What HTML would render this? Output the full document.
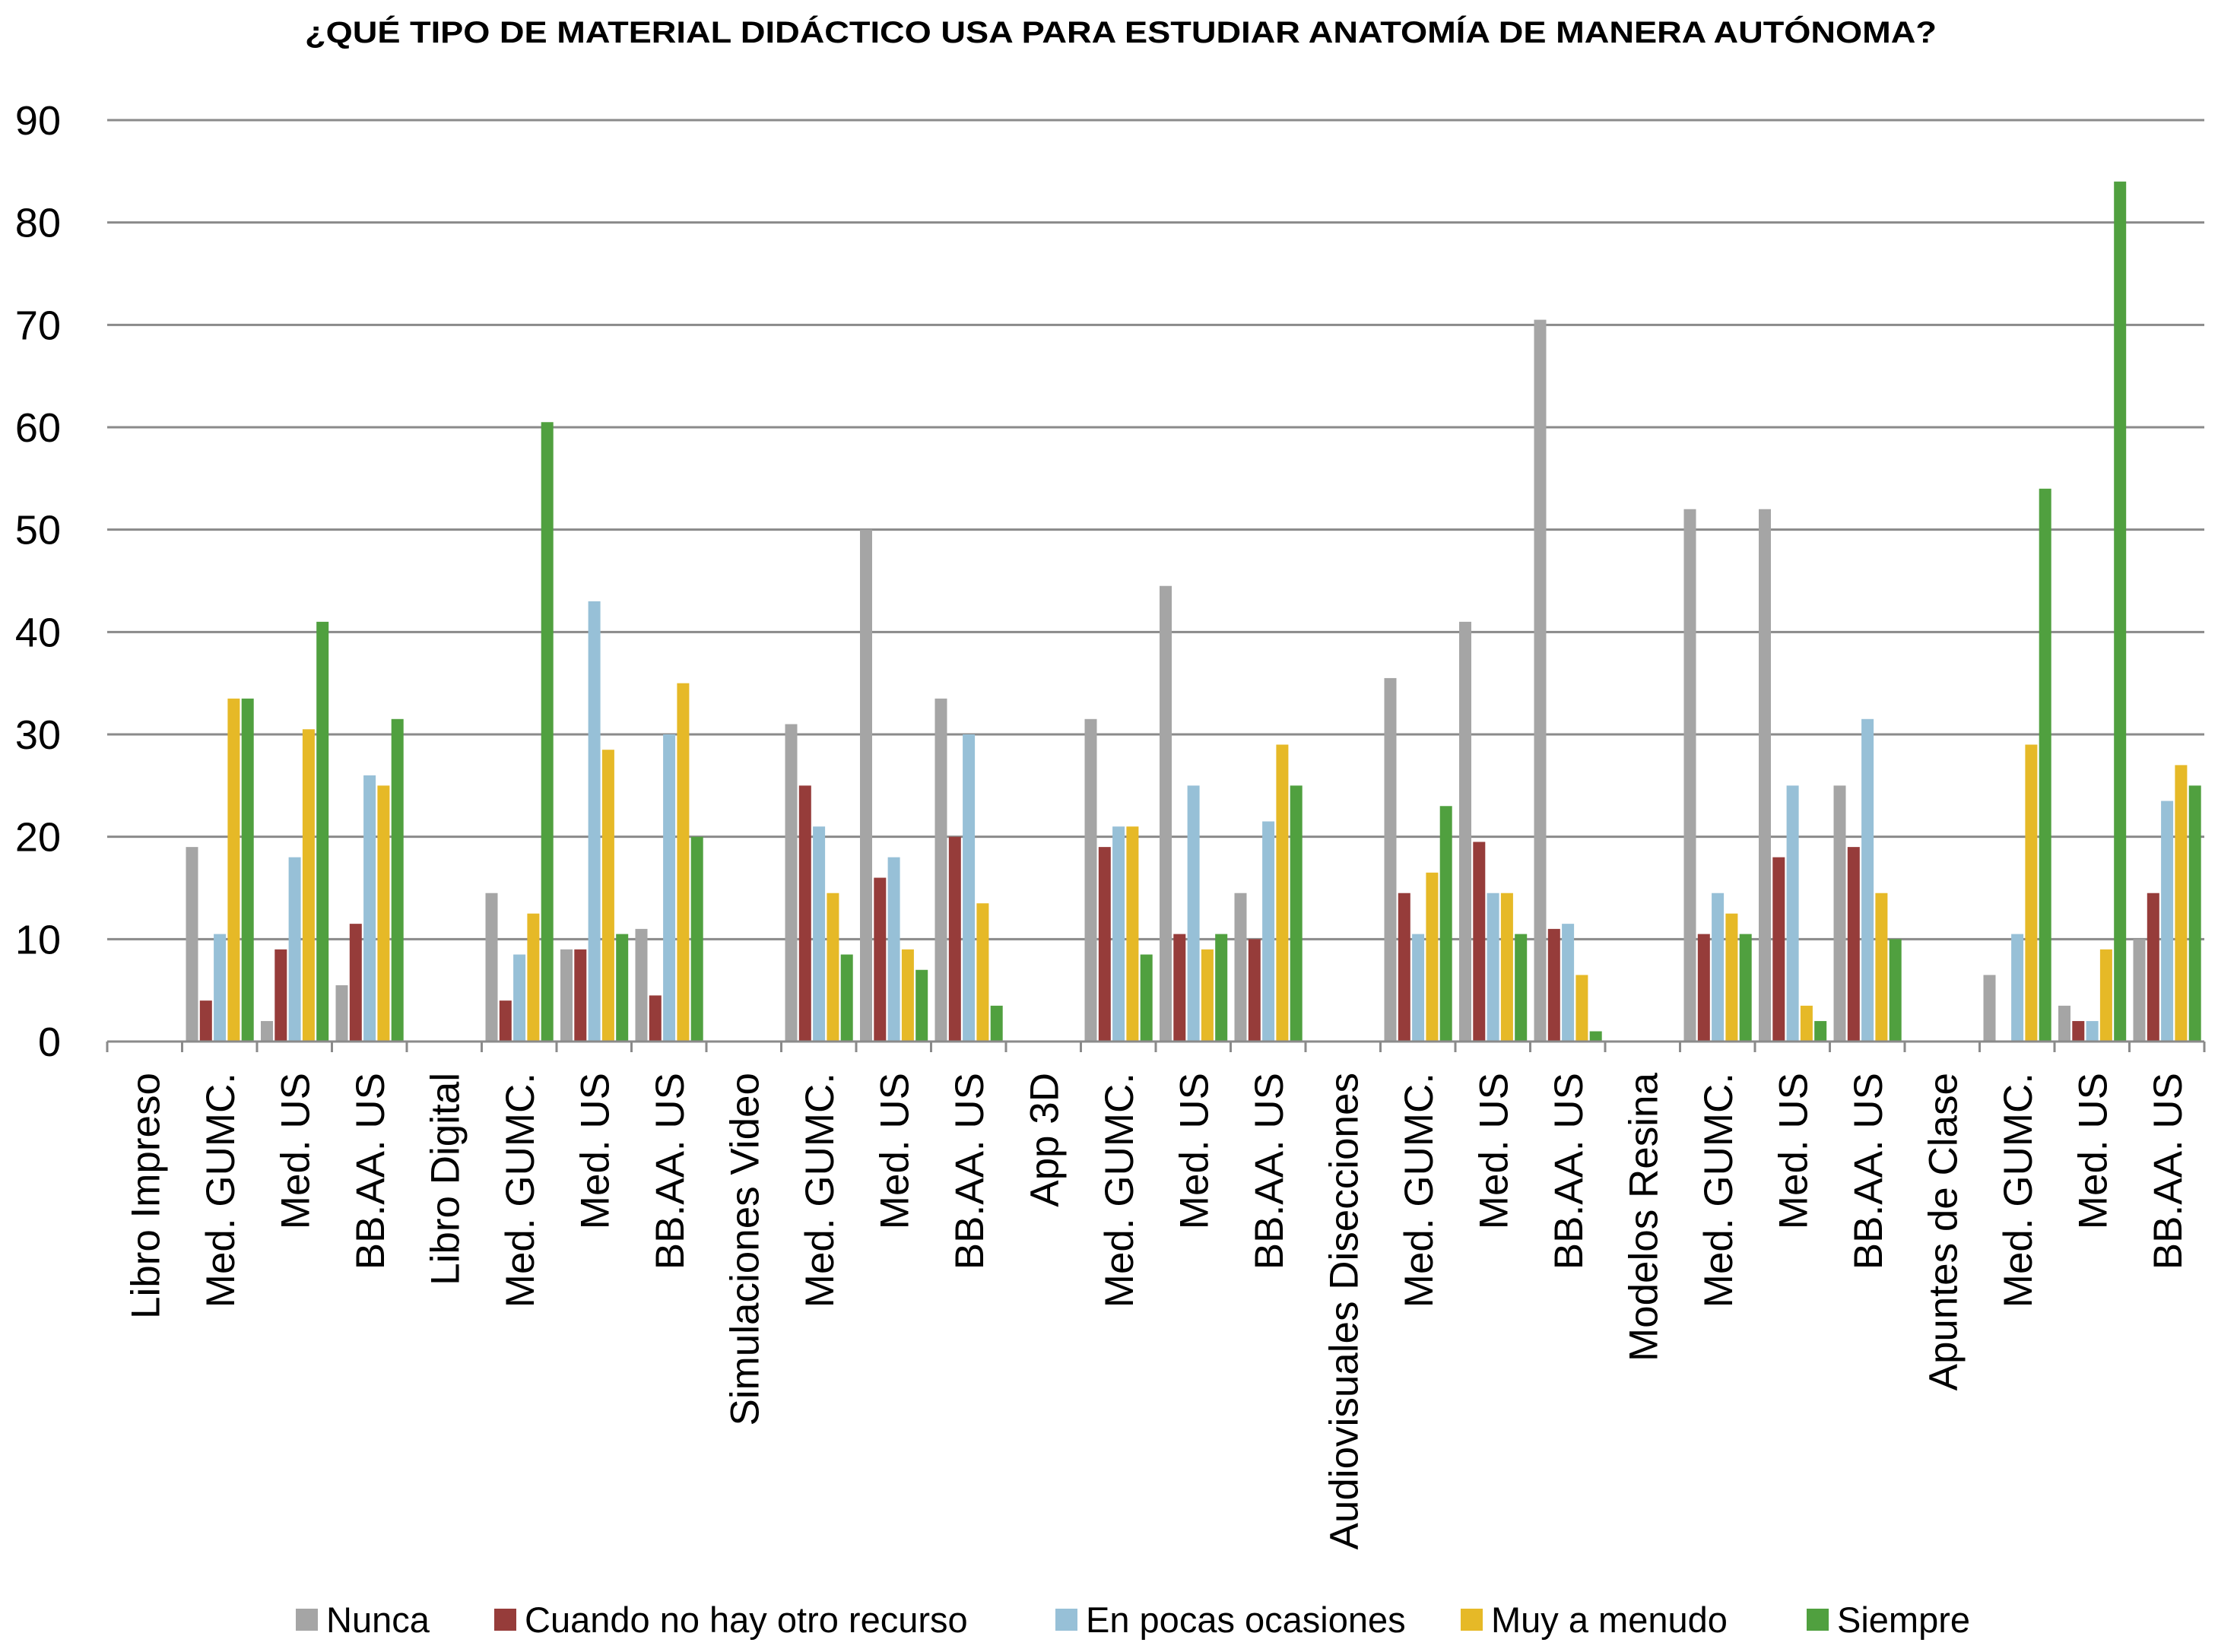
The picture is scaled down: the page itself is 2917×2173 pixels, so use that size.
<!DOCTYPE html>
<html><head><meta charset="utf-8"><style>
html,body{margin:0;padding:0;background:#fff;}
svg{display:block;font-family:"Liberation Sans",sans-serif;}
</style></head><body>
<svg id="chart" width="2917" height="2173" viewBox="0 0 2917 2173" xmlns="http://www.w3.org/2000/svg">
<text x="1474" y="56" text-anchor="middle" font-size="40" font-weight="bold" textLength="2146" lengthAdjust="spacingAndGlyphs">¿QUÉ TIPO DE MATERIAL DIDÁCTICO USA PARA ESTUDIAR ANATOMÍA DE MANERA AUTÓNOMA?</text>
<g id="grid"></g><g id="bars"></g><g id="xaxis"></g><g id="legend"></g>
</svg>
<script>
const categories = ["Libro Impreso","Med. GUMC.","Med. US","BB.AA. US","Libro Digital","Med. GUMC.","Med. US","BB.AA. US","Simulaciones Video","Med. GUMC.","Med. US","BB.AA. US","App 3D","Med. GUMC.","Med. US","BB.AA. US","Audiovisuales Disecciones","Med. GUMC.","Med. US","BB.AA. US","Modelos Resina","Med. GUMC.","Med. US","BB.AA. US","Apuntes de Clase","Med. GUMC.","Med. US","BB.AA. US"];
const seriesNames = ["Nunca","Cuando no hay otro recurso","En pocas ocasiones","Muy a menudo","Siempre"];
const nunca =    [null,19,2,5.5, null,14.5,9,11, null,31,50,33.5, null,31.5,44.5,14.5, null,35.5,41,70.5, null,52,52,25, null,6.5,3.5,10];
const cuando =   [null,4,9,11.5, null,4,9,4.5, null,25,16,20, null,19,10.5,10, null,14.5,19.5,11, null,10.5,18,19, null,0,2,14.5];
const pocas =    [null,10.5,18,26, null,8.5,43,30, null,21,18,30, null,21,25,21.5, null,10.5,14.5,11.5, null,14.5,25,31.5, null,10.5,2,23.5];
const menudo =   [null,33.5,30.5,25, null,12.5,28.5,35, null,14.5,9,13.5, null,21,9,29, null,16.5,14.5,6.5, null,12.5,3.5,14.5, null,29,9,27];
const siempre =  [null,33.5,41,31.5, null,60.5,10.5,20, null,8.5,7,3.5, null,8.5,10.5,25, null,23,10.5,1, null,10.5,2,10, null,54,84,25];
const yTicks = [0,10,20,30,40,50,60,70,80,90];

const series = [nunca,cuando,pocas,menudo,siempre];
const colors = ["#a5a5a5","#963c3a","#97c0d7","#e6b927","#50a03f"];
const NS="http://www.w3.org/2000/svg";
const X0=141, X1=2899, Y0=1370, YTOP=158, YMAX=90;
const slot=(X1-X0)/categories.length;
const yScale=v=>Y0-(v/YMAX)*(Y0-YTOP);
const xSlot=i=>X0+i*slot;
function mk(tag,attrs,parent){const e=document.createElementNS(NS,tag);for(const k in attrs)e.setAttribute(k,attrs[k]);parent.appendChild(e);return e;}
const grid=document.getElementById('grid'), bars=document.getElementById('bars'), xa=document.getElementById('xaxis'), lg=document.getElementById('legend');
yTicks.forEach(t=>{
  const y=yScale(t);
  if(t>0){const l=mk('line',{x1:X0,x2:X1,y1:y,y2:y,stroke:'#8a8a8a','stroke-width':3},grid);
  
  }
  const tx=mk('text',{x:80,y:y+19,'text-anchor':'end','font-size':54,fill:'#000'},grid);
  tx.textContent=t;
  
  
});
const bw=16, bstep=18.3;
series.forEach((s,si)=>{
  s.forEach((v,ci)=>{
    if(v===null||v===0)return;
    const x=xSlot(ci)+5+si*bstep;
    const r=mk('rect',{x:x,y:yScale(v),width:bw,height:Y0-yScale(v),fill:colors[si]},bars);
    
    
  });
});
const ax=mk('line',{x1:X0,x2:X1,y1:Y0,y2:Y0,stroke:'#8a8a8a','stroke-width':3},xa);


for(let i=0;i<=categories.length;i++){
  const tk=mk('line',{x1:xSlot(i),x2:xSlot(i),y1:Y0,y2:Y0+14,stroke:'#8a8a8a','stroke-width':3},xa);
  
  
}
categories.forEach((c,i)=>{
  const cx=xSlot(i)+slot/2+19;
  const t=mk('text',{x:cx,y:1411,'text-anchor':'end','font-size':53,fill:'#000',transform:`rotate(-90 ${cx} 1411)`},xa);
  t.textContent=c;
  
  
});
const legX=[389,650,1388,1921,2376];
seriesNames.forEach((n,i)=>{
  const r=mk('rect',{x:legX[i],y:2116,width:29,height:29,fill:colors[i]},lg);
  
  
  const t=mk('text',{x:legX[i]+40,y:2147,'font-size':47,fill:'#000'},lg);
  t.textContent=n;
  
  
});
</script>
</body></html>
